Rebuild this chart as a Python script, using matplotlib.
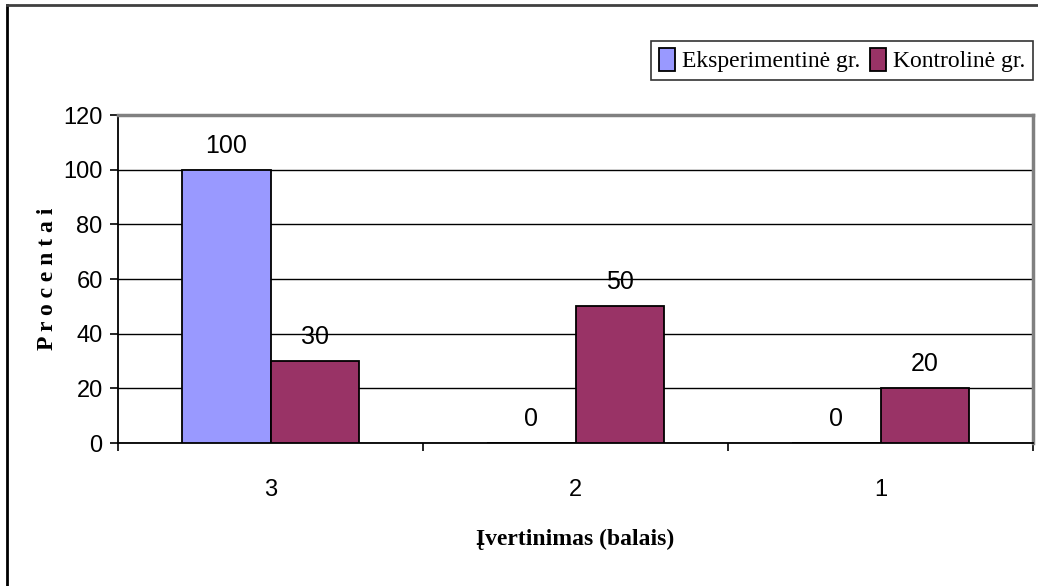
import numpy as np
import matplotlib.pyplot as plt
from matplotlib.lines import Line2D

categories = ["3", "2", "1"]
eksperimentine = [100, 0, 0]
kontroline = [30, 50, 20]
series_names = ["Eksperimentinė gr.", "Kontrolinė gr."]

sans = ["Liberation Sans Narrow", "Liberation Sans", "DejaVu Sans"]
serif = ["Liberation Serif", "DejaVu Serif"]

fig = plt.figure(figsize=(10.38, 5.86), dpi=100)
ax = fig.add_axes([0.1137, 0.244, 0.8815, 0.5594])

x = np.arange(len(categories))
w = 0.289
b1 = ax.bar(x - w / 2, eksperimentine, w, color="#9999FF", edgecolor="black", linewidth=1.3,
            label=series_names[0], zorder=3)
b2 = ax.bar(x + w / 2, kontroline, w, color="#993366", edgecolor="black", linewidth=1.3,
            label=series_names[1], zorder=3)

# value labels above each bar
for bars in (b1, b2):
    for r in bars:
        h = r.get_height()
        ax.text(r.get_x() + r.get_width() / 2, h + 4.5, f"{h:g}", ha="center", va="bottom",
                fontsize=18, family=sans)

ax.set_xlim(-0.5, 2.5)
ax.set_ylim(0, 120)
ax.set_yticks(range(0, 121, 20))
ax.yaxis.grid(True, color="black", linewidth=1, zorder=0)
ax.set_axisbelow(True)

ax.set_xticks(x)
ax.set_xticklabels(categories, family=sans, fontsize=17)
ax.set_xticks([-0.5, 0.5, 1.5, 2.5], minor=True)
ax.tick_params(axis="x", which="major", length=0, pad=26)
ax.tick_params(axis="x", which="minor", length=6, width=1.2, direction="out")
ax.tick_params(axis="y", length=6, width=1.2, pad=5)
for lab in ax.get_yticklabels():
    lab.set_family(sans)
    lab.set_fontsize(17)

for s in ("left", "bottom"):
    ax.spines[s].set_color("black")
    ax.spines[s].set_linewidth(1.3)
for s in ("top", "right"):
    ax.spines[s].set_color("#808080")
    ax.spines[s].set_linewidth(2.5)

ax.set_ylabel("P r o c e n t a i", family=serif, fontweight="bold", fontsize=17, labelpad=4)
ax.set_xlabel("Įvertinimas (balais)", family=serif, fontweight="bold", fontsize=17, labelpad=20)

leg = fig.legend(handles=[b1, b2], labels=series_names, loc="upper right",
                 bbox_to_anchor=(0.995, 0.93), ncol=2, frameon=True, fancybox=False,
                 prop={"family": serif, "size": 17}, handlelength=0.7, handleheight=1.1,
                 handletextpad=0.3, columnspacing=0.4, borderpad=0.3, borderaxespad=0)
leg.get_frame().set_edgecolor("black")
leg.get_frame().set_linewidth(1.2)

# outer chart border (left and top visible)
fig.add_artist(Line2D([0.0072, 0.0072], [0, 0.991], color="black", linewidth=2, transform=fig.transFigure))
fig.add_artist(Line2D([0.0072, 1], [0.991, 0.991], color="#404040", linewidth=2, transform=fig.transFigure))

fig.savefig("out.png", dpi=100)
